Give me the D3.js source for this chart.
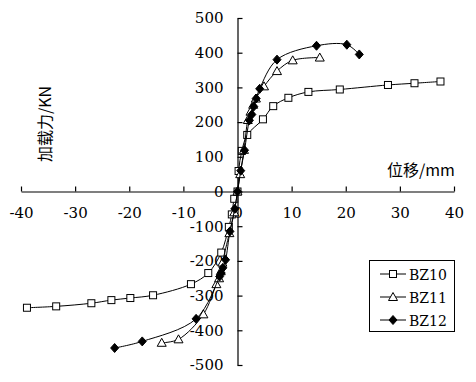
<!DOCTYPE html>
<html><head><meta charset="utf-8">
<script src="https://cdn.jsdelivr.net/npm/d3@7"></script>
<style>
html,body{margin:0;padding:0;background:#fff;}
svg{display:block;}
</style>
</head><body>
<svg id="chart" width="476" height="382"></svg>
<script>
// ---- data ----
const seriesNames = ["BZ10", "BZ11", "BZ12"];
const bz10X = [-38.9, -33.5, -27.0, -23.3, -19.8, -15.6, -8.6, -5.4, -3.0, -1.6, -1.05, -0.6, 0, 0.2, 0.8, 1.8, 4.7, 6.6, 9.4, 13.1, 18.9, 27.8, 32.7, 37.5];
const bz10Y = [-335, -331, -322, -313, -307, -299, -267, -235, -176, -102, -66, -21, 0, 59, 117, 163, 208, 246, 270, 287, 294, 307, 312, 317];
const bz11X = [-14.0, -10.9, -6.3, -3.9, -3.4, -3.1, -2.8, -1.5, -0.6, 0, 0.5, 1.2, 1.9, 2.4, 2.9, 3.4, 4.9, 7.3, 10.2, 15.2];
const bz11Y = [-436, -426, -354, -267, -250, -230, -205, -120, -60, 0, 50, 120, 206, 230, 250, 268, 303, 347, 378, 386];
const bz12X = [-22.7, -17.6, -7.65, -3.3, -3.0, -2.7, -2.2, -1.4, -0.5, 0, 0.6, 1.3, 2.2, 2.65, 3.0, 3.45, 4.1, 7.3, 14.6, 20.2, 22.5];
const bz12Y = [-451, -432, -367, -245, -235, -220, -197, -115, -50, 0, 60, 119, 205, 222, 245, 268, 296, 380, 420, 423, 395];
const xTicks = [-40, -30, -20, -10, 0, 10, 20, 30, 40];
const yTicks = [-500, -400, -300, -200, -100, 0, 100, 200, 300, 400, 500];
const xTitle = "位移/mm";
const yTitle = "加载力/KN";

const series = [
  {name: seriesNames[0], xs: bz10X, ys: bz10Y, marker: "square"},
  {name: seriesNames[1], xs: bz11X, ys: bz11Y, marker: "triangle"},
  {name: seriesNames[2], xs: bz12X, ys: bz12Y, marker: "diamond"}
];

const svg = d3.select("#chart");
const x = d3.scaleLinear().domain([-40, 40]).range([21, 454]);
const y = d3.scaleLinear().domain([-500, 500]).range([365, 18]);
const fmt = d => d < 0 ? "-" + Math.abs(d) : String(d);
const tickFont = "'DejaVu Serif', 'Liberation Serif', serif";

// x axis
const gx = svg.append("g").attr("transform", `translate(0,${y(0)})`)
  .call(d3.axisBottom(x).tickValues(xTicks).tickFormat(fmt).tickSizeInner(-5).tickSizeOuter(0).tickPadding(16));
gx.selectAll("text").attr("font-family", tickFont).attr("font-size", 15).attr("fill", "#000");
// y axis
const gy = svg.append("g").attr("transform", `translate(${x(0)},0)`)
  .call(d3.axisLeft(y).tickValues(yTicks).tickFormat(fmt).tickSizeInner(-5).tickSizeOuter(0).tickPadding(14));
gy.selectAll("text").attr("font-family", tickFont).attr("font-size", 15).attr("fill", "#000");
[gx, gy].forEach(g => { g.selectAll("line,path").attr("stroke", "#000").attr("stroke-width", 1.2); g.attr("font-size", null); });
// raise domain lines above labels
gx.select(".domain").raise();
gy.select(".domain").raise();

// titles
svg.append("text").attr("x", 387).attr("y", 176)
  .attr("font-family", "'Noto Sans CJK SC', sans-serif").attr("font-size", 16).attr("fill", "#000").text(xTitle);
svg.append("text").attr("transform", "translate(51,124) rotate(-90)").attr("text-anchor", "middle")
  .attr("font-family", "'Noto Sans CJK SC', sans-serif").attr("font-size", 16).attr("fill", "#000").text(yTitle);

// markers
function drawMarker(g, type, cx, cy) {
  if (type === "square") {
    g.append("rect").attr("x", cx - 3.5).attr("y", cy - 3.5).attr("width", 7).attr("height", 7)
      .attr("fill", "#fff").attr("stroke", "#000").attr("stroke-width", 1);
  } else if (type === "triangle") {
    g.append("path").attr("d", `M${cx},${cy - 4.5}L${cx + 4.5},${cy + 3.5}L${cx - 4.5},${cy + 3.5}Z`)
      .attr("fill", "#fff").attr("stroke", "#000").attr("stroke-width", 1);
  } else {
    g.append("path").attr("d", `M${cx},${cy - 4.5}L${cx + 4},${cy}L${cx},${cy + 4.5}L${cx - 4},${cy}Z`)
      .attr("fill", "#000").attr("stroke", "#000").attr("stroke-width", 1);
  }
}

const line = d3.line().x(d => x(d[0])).y(d => y(d[1])).curve(d3.curveCatmullRom.alpha(0.5));
series.forEach(s => {
  const pts = s.xs.map((v, i) => [v, s.ys[i]]);
  const g = svg.append("g");
  g.append("path").attr("d", line(pts)).attr("fill", "none").attr("stroke", "#000").attr("stroke-width", 1);
  pts.forEach(p => drawMarker(g, s.marker, x(p[0]), y(p[1])));
});

// legend
const lg = svg.append("g");
lg.append("rect").attr("x", 369.5).attr("y", 260.5).attr("width", 85).attr("height", 71)
  .attr("fill", "#fff").attr("stroke", "#000").attr("stroke-width", 1);
series.forEach((s, i) => {
  const ly = 274 + i * 23;
  lg.append("line").attr("x1", 380).attr("x2", 406).attr("y1", ly).attr("y2", ly).attr("stroke", "#000");
  drawMarker(lg, s.marker, 393, ly);
  lg.append("text").attr("x", 409).attr("y", ly + 5.5).attr("font-family", tickFont).attr("font-size", 14)
    .attr("fill", "#000").text(s.name);
});
</script>
</body></html>
